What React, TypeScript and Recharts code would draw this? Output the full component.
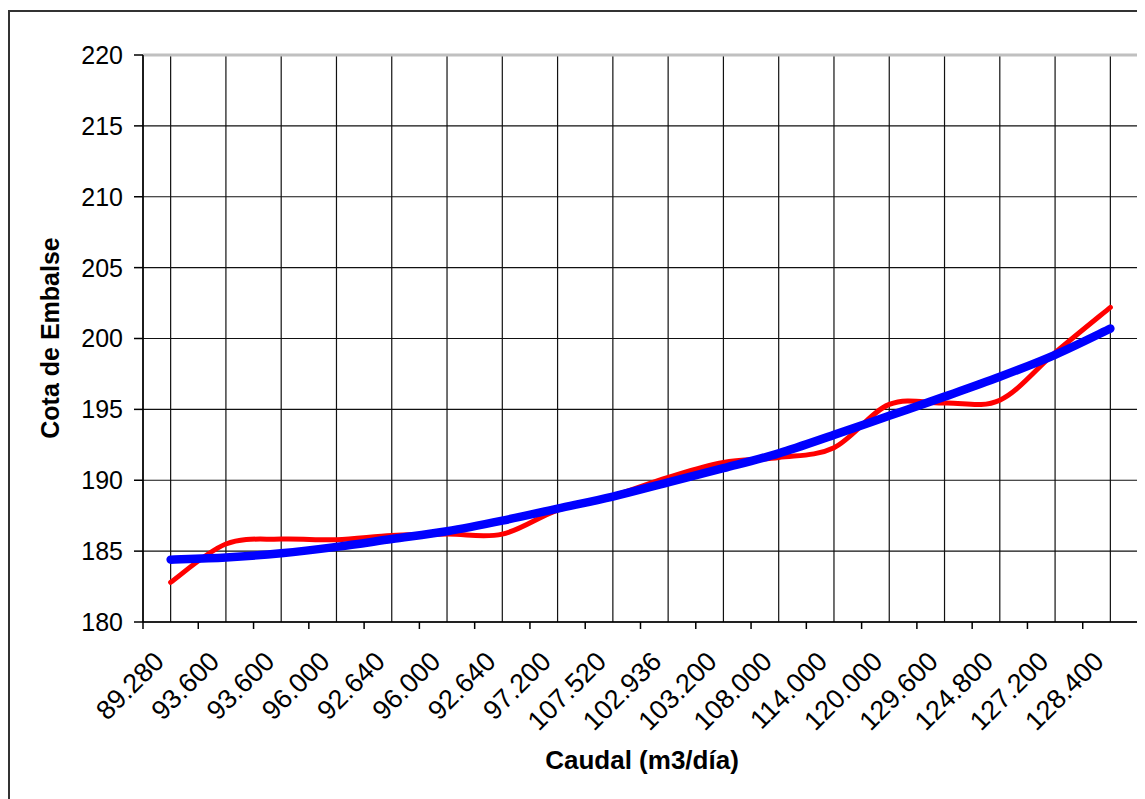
import { LineChart, Line, XAxis, YAxis, CartesianGrid, ReferenceLine } from "recharts";

// categorías del eje X (caudal m3/día)
const caudales = [
  "89.280", "93.600", "93.600", "96.000", "92.640", "96.000", "92.640", "97.200", "107.520",
  "102.936", "103.200", "108.000", "114.000", "120.000", "129.600", "124.800", "127.200", "128.400",
];

// cota observada (curva roja)
const cotaReal = [
  182.8, 185.5, 185.85, 185.8, 186.1, 186.2, 186.2, 187.9, 188.9,
  190.2, 191.25, 191.6, 192.3, 195.35, 195.45, 195.65, 199.0, 202.2,
];

// línea de tendencia (azul)
const cotaTendencia = [
  184.4, 184.55, 184.85, 185.3, 185.85, 186.4, 187.15, 188.0, 188.85,
  189.85, 190.85, 191.9, 193.2, 194.55, 195.9, 197.3, 198.85, 200.7,
];

const yTicks = [180, 185, 190, 195, 200, 205, 210, 215, 220];

const data = caudales.map((c, i) => ({
  caudal: c,
  real: cotaReal[i],
  tendencia: cotaTendencia[i],
}));

const FONT = "Arial, 'Liberation Sans', sans-serif";
const W = 1137;
const H = 791;
const MARGIN = { top: 47, right: 7, left: 0, bottom: 77 };
const Y_W = 135;
const PLOT_W = W - Y_W - MARGIN.right;
const BAND = PLOT_W / caudales.length;

// curva suavizada tipo Excel (Catmull-Rom)
function suavizada(context: any) {
  let pts: [number, number][] = [];
  return {
    areaStart() {},
    areaEnd() {},
    lineStart() {
      pts = [];
    },
    lineEnd() {
      const n = pts.length;
      if (!n) return;
      context.moveTo(pts[0][0], pts[0][1]);
      for (let i = 0; i < n - 1; i++) {
        const p0 = pts[Math.max(i - 1, 0)];
        const p1 = pts[i];
        const p2 = pts[i + 1];
        const p3 = pts[Math.min(i + 2, n - 1)];
        context.bezierCurveTo(
          p1[0] + (p2[0] - p0[0]) / 6,
          p1[1] + (p2[1] - p0[1]) / 6,
          p2[0] - (p3[0] - p1[0]) / 6,
          p2[1] - (p3[1] - p1[1]) / 6,
          p2[0],
          p2[1]
        );
      }
    },
    point(x: number, y: number) {
      pts.push([+x, +y]);
    },
  };
}

function XTick(props: any) {
  const { x, y, payload, index } = props;
  const left = x - BAND / 2;
  const tx = x - 5;
  const ty = y + 41;
  return (
    <g>
      <line x1={left} y1={y} x2={left} y2={y + 7} stroke="#000" strokeWidth={1.5} />
      {index === caudales.length - 1 && (
        <line x1={x + BAND / 2} y1={y} x2={x + BAND / 2} y2={y + 7} stroke="#000" strokeWidth={1.5} />
      )}
      <text
        x={tx}
        y={ty}
        textAnchor="end"
        transform={`rotate(-45, ${tx}, ${ty})`}
        fontSize={27}
        fontFamily={FONT}
        fill="#000"
      >
        {payload.value}
      </text>
    </g>
  );
}

export default function App() {
  return (
    <div style={{ position: "relative", width: W, height: H, overflow: "hidden", background: "#fff" }}>
      <div
        style={{
          position: "absolute",
          left: 0,
          top: 2,
          width: W + 20,
          height: H + 20,
          border: "2px solid #333",
          boxSizing: "border-box",
        }}
      />
      <LineChart width={W} height={H} data={data} margin={MARGIN} style={{ position: "absolute", left: 0, top: 0 }}>
        <CartesianGrid stroke="#111" strokeWidth={1.2} />
        <XAxis
          dataKey="caudal"
          interval={0}
          height={100}
          padding={{ left: BAND / 2, right: BAND / 2 }}
          axisLine={{ stroke: "#000", strokeWidth: 1.5 }}
          tickLine={false}
          tickSize={0}
          tickMargin={0}
          tick={<XTick />}
        />
        <YAxis
          width={Y_W}
          domain={[180, 220]}
          ticks={yTicks}
          interval={0}
          axisLine={{ stroke: "#000", strokeWidth: 1.5 }}
          tickLine={{ stroke: "#000", strokeWidth: 1.5 }}
          tickSize={9}
          tickMargin={11}
          tick={{ fontSize: 25, fill: "#000", fontFamily: FONT }}
        />
        <ReferenceLine y={220} stroke="#c0c0c0" strokeWidth={3} />
        <Line
          dataKey="real"
          type={suavizada as any}
          stroke="#ff0000"
          strokeWidth={5}
          strokeLinecap="round"
          dot={false}
          isAnimationActive={false}
        />
        <Line
          dataKey="tendencia"
          type={suavizada as any}
          stroke="#0000ff"
          strokeWidth={8.5}
          strokeLinecap="round"
          dot={false}
          isAnimationActive={false}
        />
      </LineChart>
      <div
        style={{
          position: "absolute",
          left: W - MARGIN.right - 1,
          top: MARGIN.top - 1,
          width: 3,
          height: H - MARGIN.top - MARGIN.bottom - 100 + 1,
          background: "#c0c0c0",
        }}
      />
      <div
        style={{
          position: "absolute",
          left: 42,
          top: 330,
          transform: "translate(-50%, -50%) rotate(-90deg)",
          whiteSpace: "nowrap",
          fontFamily: FONT,
          fontWeight: "bold",
          fontSize: 25,
          lineHeight: 1,
        }}
      >
        Cota de Embalse
      </div>
      <div
        style={{
          position: "absolute",
          left: 634,
          top: 752,
          transform: "translate(-50%, -50%)",
          whiteSpace: "nowrap",
          fontFamily: FONT,
          fontWeight: "bold",
          fontSize: 26,
          lineHeight: 1,
        }}
      >
        Caudal (m3/día)
      </div>
    </div>
  );
}
